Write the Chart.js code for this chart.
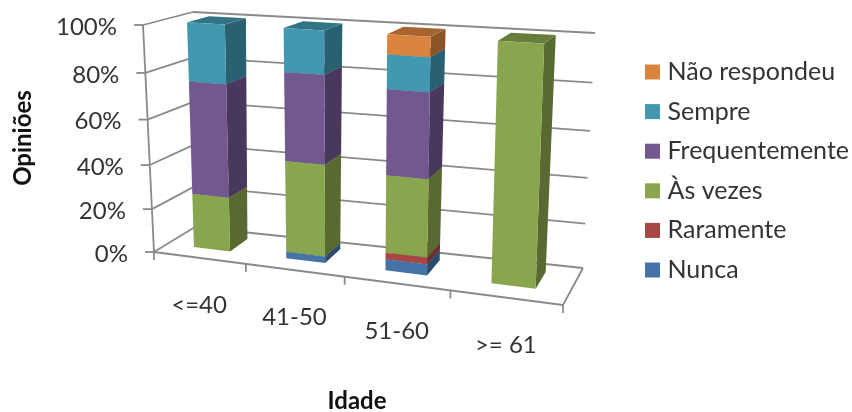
<!DOCTYPE html>
<html>
<head>
<meta charset="utf-8">
<title>Opiniões por idade</title>
<script src="https://cdn.jsdelivr.net/npm/chart.js@4"></script>
<style>
    html, body { margin: 0; padding: 0; background: #fff; }
    canvas { display: block; }
</style>
</head>
<body>
<canvas id="chart" width="852" height="412"></canvas>
<script>
const categories = ['<=40', '41-50', '51-60', '>= 61'];
const nunca = [0, 3, 5, 0];
const raramente = [0, 0, 3, 0];
const asVezes = [25, 41, 34, 100];
const frequentemente = [50, 38, 36, 0];
const sempre = [25, 18, 14, 0];
const naoRespondeu = [0, 0, 8, 0];
const yTitle = 'Opiniões';
const xTitle = 'Idade';

const FONT = 'Lato, "Open Sans", sans-serif';
const GRID = '#8a8a8a';
const INK = '#333333';

// corners of the 3D box on screen: f/b front/back, b/t bottom/top, l/r left/right
const box = {
    fbl: [154, 252], ftl: [143, 25], fbr: [563, 305], ftr: [572, 52],
    bbl: [195, 227], btl: [193, 12], bbr: [583, 268], btr: [595, 33]
};
const BAR_FRONT = 0.33;
const BAR_BACK = 0.79;
const SWATCH = 15;

const mix = (a, b, t) => [a[0] + (b[0] - a[0]) * t, a[1] + (b[1] - a[1]) * t];

// u, v in 0..1 along the scales, z = depth. The warps fake the perspective
function project(u, v, z) {
    const uu = u - 0.135 * u * (1 - u);
    const vv = v - 0.07 * v * (1 - v);
    const front = mix(mix(box.fbl, box.fbr, uu), mix(box.ftl, box.ftr, uu), vv);
    const back = mix(mix(box.bbl, box.bbr, uu), mix(box.btl, box.btr, uu), vv);
    return mix(front, back, z);
}

function shade(hex, f) {
    const n = parseInt(hex.slice(1), 16);
    const c = [n >> 16, (n >> 8) & 255, n & 255].map(x => Math.round(x * f));
    return `rgb(${c[0]},${c[1]},${c[2]})`;
}

function poly(ctx, pts, fill) {
    ctx.beginPath();
    pts.forEach((p, i) => i ? ctx.lineTo(p[0], p[1]) : ctx.moveTo(p[0], p[1]));
    ctx.closePath();
    ctx.fillStyle = fill;
    ctx.fill();
}

function line(ctx, a, b) {
    ctx.beginPath();
    ctx.moveTo(a[0], a[1]);
    ctx.lineTo(b[0], b[1]);
    ctx.stroke();
}

const box3d = {
    id: 'box3d',
    beforeDatasetsDraw(chart) {
        const { ctx, chartArea: area, scales: { x, y } } = chart;
        const toU = px => (px - area.left) / (area.right - area.left);
        const toV = py => (area.bottom - py) / (area.bottom - area.top);
        const n = categories.length;

        ctx.save();
        ctx.strokeStyle = GRID;
        ctx.lineWidth = 1.8;

        // walls, floor edges and ticks
        y.ticks.forEach(tick => {
            const v = toV(y.getPixelForValue(tick.value));
            const a = project(0, v, 0);
            line(ctx, [a[0] - 9, a[1]], a);
            line(ctx, a, project(0, v, 1));
            line(ctx, project(0, v, 1), project(1, v, 1));
        });
        line(ctx, project(0, 0, 0), project(0, 1, 0));
        line(ctx, project(0, 0, 0), project(1, 0, 0));
        line(ctx, project(1, 0, 0), project(1, 0, 1));
        for (let i = 0; i <= n; i++) {
            const a = project(i / n, 0, 0);
            line(ctx, a, [a[0], a[1] + 8]);
        }

        // bars, from the real bar elements of every dataset
        for (let i = 0; i < n; i++) {
            chart.data.datasets.forEach((ds, d) => {
                const el = chart.getDatasetMeta(d).data[i];
                const p = el.getProps(['x', 'y', 'base', 'width'], true);
                if (Math.abs(p.base - p.y) < 0.01) return;
                const u0 = toU(p.x - p.width / 2);
                const u1 = toU(p.x + p.width / 2);
                const v0 = toV(p.base);
                const v1 = toV(p.y);
                const color = ds.backgroundColor;
                poly(ctx, [project(u1, v0, BAR_FRONT), project(u1, v1, BAR_FRONT),
                    project(u1, v1, BAR_BACK), project(u1, v0, BAR_BACK)], shade(color, 0.64));
                poly(ctx, [project(u0, v1, BAR_FRONT), project(u1, v1, BAR_FRONT),
                    project(u1, v1, BAR_BACK), project(u0, v1, BAR_BACK)], shade(color, 0.76));
                poly(ctx, [project(u0, v0, BAR_FRONT), project(u1, v0, BAR_FRONT),
                    project(u1, v1, BAR_FRONT), project(u0, v1, BAR_FRONT)], color);
            });
        }

        // texts follow the box, so they can't be plain scale labels
        ctx.fillStyle = INK;
        ctx.font = `24px ${FONT}`;
        ctx.textBaseline = 'middle';
        ctx.textAlign = 'right';
        y.ticks.forEach(tick => {
            const a = project(0, toV(y.getPixelForValue(tick.value)), 0);
            ctx.fillText(tick.label, a[0] - 26, a[1] + 2);
        });
        ctx.textAlign = 'center';
        categories.forEach((c, i) => {
            const a = project(toU(x.getPixelForValue(i)), 0, 0);
            ctx.fillText(c, a[0], a[1] + 47.5);
        });

        ctx.fillStyle = '#111111';
        ctx.font = `bold 24px ${FONT}`;
        ctx.fillText(xTitle, 357, 401);
        ctx.translate(23, 138);
        ctx.rotate(-Math.PI / 2);
        ctx.fillText(yTitle, 0, 0);
        ctx.restore();
        return false;
    },
    // the legend leaves too wide a gap before the text, so the swatches go here
    afterDraw(chart) {
        const { ctx, legend } = chart;
        legend.legendItems.forEach((item, i) => {
            const hit = legend.legendHitBoxes[i];
            ctx.fillStyle = chart.data.datasets[item.datasetIndex].backgroundColor;
            ctx.fillRect(hit.left, hit.top + (hit.height - SWATCH) / 2, SWATCH, SWATCH);
        });
    }
};

new Chart(document.getElementById('chart'), {
    type: 'bar',
    data: {
        labels: categories,
        datasets: [
            { label: 'Nunca', data: nunca, backgroundColor: '#4573A7' },
            { label: 'Raramente', data: raramente, backgroundColor: '#AA4644' },
            { label: 'Às vezes', data: asVezes, backgroundColor: '#89A54E' },
            { label: 'Frequentemente', data: frequentemente, backgroundColor: '#71588F' },
            { label: 'Sempre', data: sempre, backgroundColor: '#4298AF' },
            { label: 'Não respondeu', data: naoRespondeu, backgroundColor: '#DB843D' }
        ]
    },
    options: {
        responsive: false,
        animation: false,
        categoryPercentage: 1,
        barPercentage: 0.4,
        layout: { padding: { right: -7 } },
        scales: {
            x: {
                stacked: true,
                grid: { display: false },
                border: { display: false },
                ticks: { display: false },
                afterFit: scale => { scale.height = 70; }
            },
            y: {
                stacked: true,
                min: 0,
                max: 100,
                grid: { display: false },
                border: { display: false },
                ticks: { display: false, stepSize: 20, callback: v => v + '%' },
                afterFit: scale => { scale.width = 74; }
            }
        },
        plugins: {
            tooltip: { enabled: false },
            legend: {
                position: 'right',
                fullSize: false,
                reverse: true,
                maxWidth: 300,
                labels: {
                    color: INK,
                    font: { family: FONT, size: 25 },
                    boxWidth: 10,
                    boxHeight: 15,
                    padding: 14.6,
                    generateLabels: chart => Chart.defaults.plugins.legend.labels.generateLabels(chart)
                        .map(item => ({ ...item, fillStyle: 'transparent', strokeStyle: 'transparent', lineWidth: 0 }))
                }
            }
        }
    },
    plugins: [box3d]
});
</script>
</body>
</html>
